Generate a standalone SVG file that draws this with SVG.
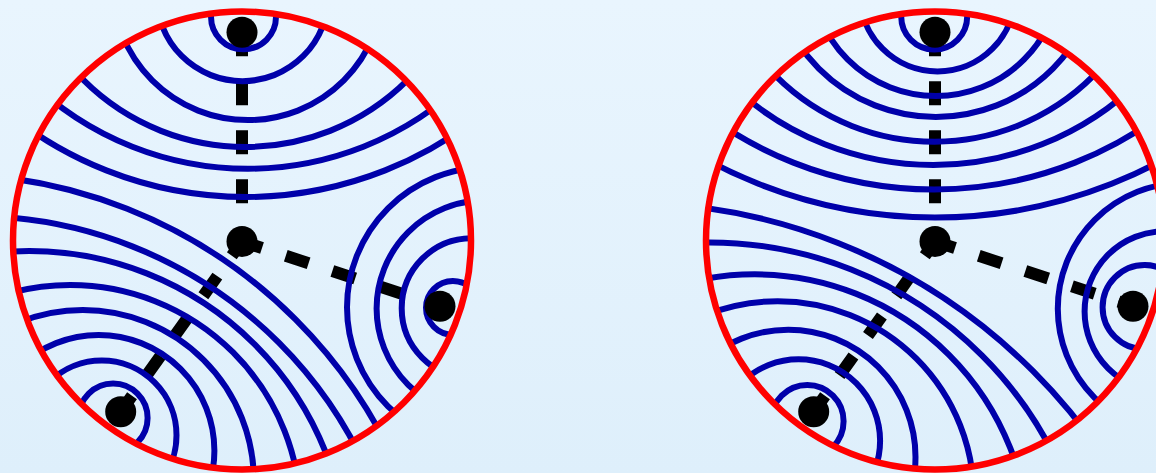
<svg xmlns="http://www.w3.org/2000/svg" width="1156" height="473" viewBox="0 0 1156 473">
<defs>
<linearGradient id="bg" x1="0" y1="0" x2="0" y2="1"><stop offset="0" stop-color="#E9F5FE"/><stop offset="1" stop-color="#DEEFFB"/></linearGradient>
<clipPath id="clipL"><circle cx="242" cy="240.5" r="229"/></clipPath>
<clipPath id="clipR"><circle cx="935" cy="240.5" r="229"/></clipPath>
</defs>
<style>
.arcs circle{fill:none;stroke:#0000AA;stroke-width:6}
.rim{fill:none;stroke:#FF0000;stroke-width:6.5}
.dash{stroke:#000;stroke-width:12;stroke-dasharray:24 25;fill:none}
.dot{fill:#000}
</style>
<rect width="1156" height="473" fill="url(#bg)"/>
<g id="connectors">
<line class="dash" x1="242" y1="32.2" x2="242" y2="241.5"/>
<line class="dash" x1="440" y1="306.2" x2="242" y2="241.5" stroke-dashoffset="8.75"/>
<line class="dash" x1="120.7" y1="411.7" x2="242" y2="241.5" stroke-dashoffset="4.5"/>
<line class="dash" x1="935" y1="32.2" x2="935" y2="241.5"/>
<line class="dash" x1="1133" y1="306.2" x2="935" y2="241.5" stroke-dashoffset="8.75"/>
<line class="dash" x1="813.7" y1="411.7" x2="935" y2="241.5" stroke-dashoffset="4.5"/>
</g>
<g id="arcs-left" class="arcs" clip-path="url(#clipL)">
<circle cx="243.5" cy="16.8" r="32.5"/>
<circle cx="242.5" cy="-4.85" r="86"/>
<circle cx="248" cy="-15.4" r="135.5"/>
<circle cx="245.5" cy="-82.7" r="229.7"/>
<circle cx="247.9" cy="-145.1" r="313.8"/>
<circle cx="245.7" cy="-181.7" r="378.7"/>
<circle cx="487" cy="307.3" r="140"/>
<circle cx="484.6" cy="308.5" r="108"/>
<circle cx="471.8" cy="308.3" r="70.1"/>
<circle cx="452.9" cy="307.8" r="26.9"/>
<circle cx="113.1" cy="418" r="34.5"/>
<circle cx="101.8" cy="435.3" r="74.7"/>
<circle cx="98.7" cy="450.7" r="115.7"/>
<circle cx="82.8" cy="481.1" r="171.1"/>
<circle cx="70.3" cy="515.3" r="230.3"/>
<circle cx="29.3" cy="569.8" r="318.8"/>
<circle cx="-26.9" cy="648.4" r="432.4"/>
<circle cx="-55.7" cy="670.6" r="496.7"/>
</g>
<g id="arcs-right" class="arcs" clip-path="url(#clipR)">
<circle cx="934.2" cy="16.5" r="33"/>
<circle cx="937.5" cy="-6.2" r="77.7"/>
<circle cx="935.85" cy="-28.85" r="124.85"/>
<circle cx="935.85" cy="-48.5" r="165.5"/>
<circle cx="934.5" cy="-82.9" r="224.6"/>
<circle cx="933.35" cy="-130.2" r="295.2"/>
<circle cx="934.15" cy="-192.9" r="382.4"/>
<circle cx="935" cy="-262.5" r="480"/>
<circle cx="1183.7" cy="308.8" r="125.9"/>
<circle cx="1164.9" cy="311.5" r="80.3"/>
<circle cx="1144.7" cy="307.2" r="42.1"/>
<circle cx="807.3" cy="421.3" r="36.3"/>
<circle cx="798.6" cy="440.8" r="81.5"/>
<circle cx="788.3" cy="456.9" r="127.2"/>
<circle cx="777.7" cy="497.4" r="196.2"/>
<circle cx="754.7" cy="549.1" r="274.8"/>
<circle cx="709.3" cy="627.9" r="385.5"/>
<circle cx="626.5" cy="777.3" r="574.7"/>
</g>
<circle class="rim" cx="242" cy="240.5" r="229"/>
<circle class="rim" cx="935" cy="240.5" r="229"/>
<g id="node-L-top"><circle class="dot" cx="242" cy="32.2" r="15.5"/></g>
<g id="node-L-center"><circle class="dot" cx="242" cy="241.5" r="15.5"/></g>
<g id="node-L-right"><circle class="dot" cx="440" cy="306.2" r="15.5"/></g>
<g id="node-L-bottomleft"><circle class="dot" cx="120.7" cy="411.7" r="15.5"/></g>
<g id="node-R-top"><circle class="dot" cx="935" cy="32.2" r="15.5"/></g>
<g id="node-R-center"><circle class="dot" cx="935" cy="241.5" r="15.5"/></g>
<g id="node-R-right"><circle class="dot" cx="1133" cy="306.2" r="15.5"/></g>
<g id="node-R-bottomleft"><circle class="dot" cx="813.7" cy="411.7" r="15.5"/></g>
</svg>
